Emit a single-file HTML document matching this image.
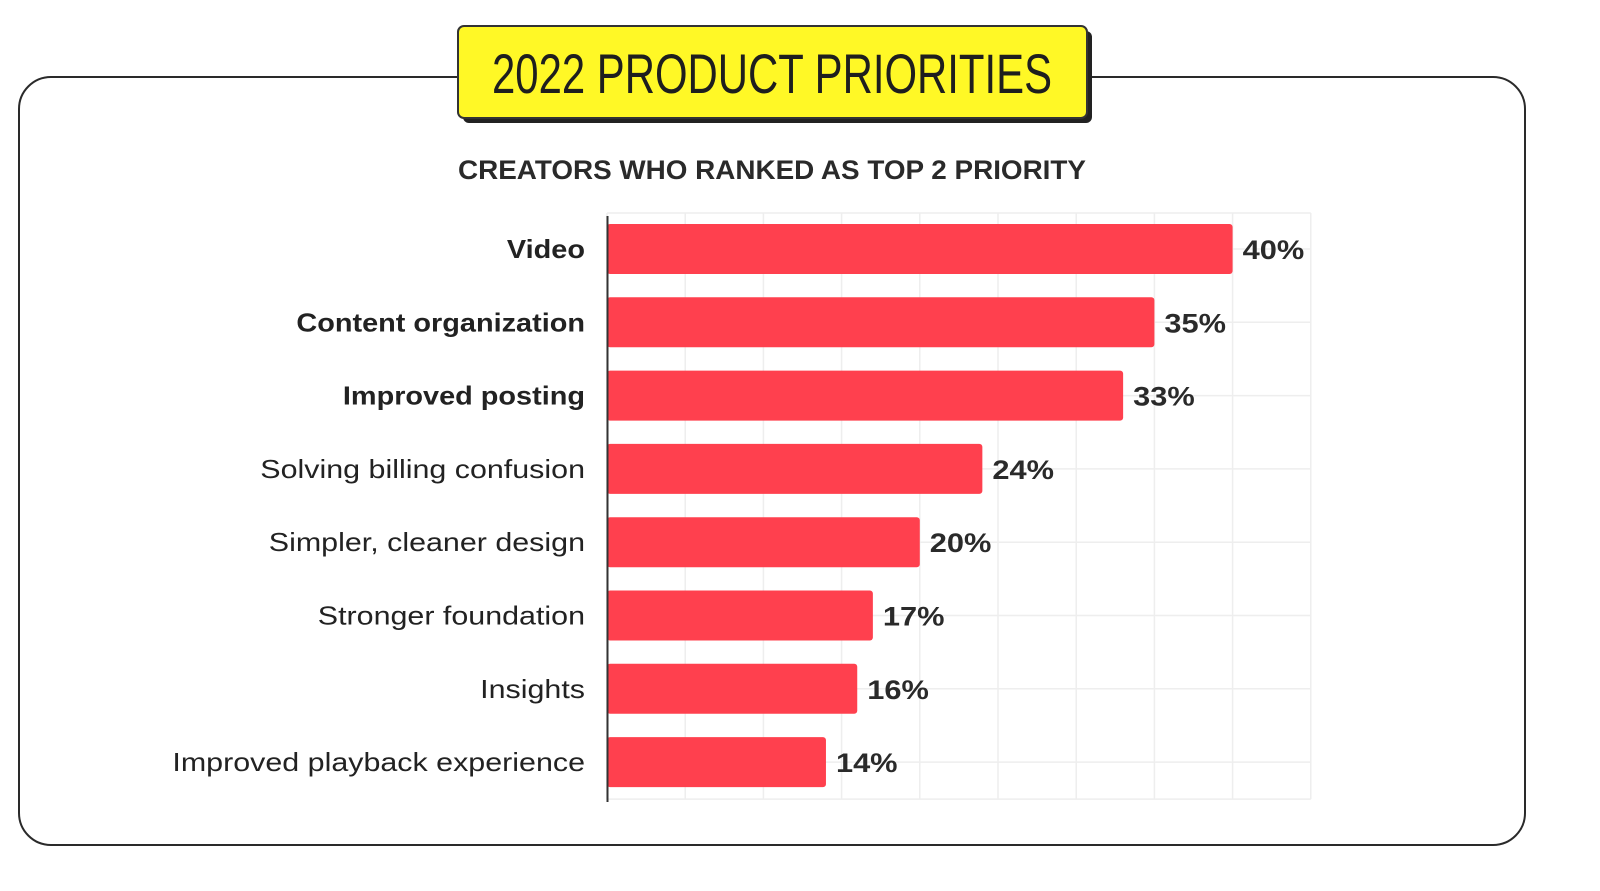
<!DOCTYPE html>
<html><head><meta charset="utf-8"><style>
html,body{margin:0;padding:0;background:#fff;}
svg{display:block;font-family:"Liberation Sans",sans-serif;}
</style></head><body>
<svg id="chart" width="1600" height="891" viewBox="0 0 1600 891">
<rect x="19" y="77" width="1506" height="768" rx="32" fill="#fff" stroke="#2a2a2a" stroke-width="2"/>
<g id="grid"></g>
<g id="bars"></g>
<line x1="607.5" y1="216" x2="607.5" y2="802" stroke="#333" stroke-width="2"/>
<rect x="463" y="31" width="629" height="92" rx="6" fill="#222"/>
<rect x="458" y="26" width="629" height="92" rx="6" fill="#fff826" stroke="#333" stroke-width="2"/>
<text x="772" y="93" text-anchor="middle" font-family="'Liberation Sans Narrow','Liberation Sans',sans-serif" font-size="56" fill="#1e1e1e" textLength="560" lengthAdjust="spacingAndGlyphs">2022 PRODUCT PRIORITIES</text>
<text x="772" y="179" text-anchor="middle" font-weight="bold" font-size="27" fill="#2a2a2a" textLength="628" lengthAdjust="spacingAndGlyphs">CREATORS WHO RANKED AS TOP 2 PRIORITY</text>
</svg>
<script>
const categories = ["Video","Content organization","Improved posting","Solving billing confusion","Simpler, cleaner design","Stronger foundation","Insights","Improved playback experience"];
const values = [40,35,33,24,20,17,16,14];
const boldFlags = [true,true,true,false,false,false,false,false];
const gridTicks = [0,5,10,15,20,25,30,35,40,45];

const NS="http://www.w3.org/2000/svg";
const x0=607, pxPer=78.2/5;
const xs=v=>x0+v*pxPer;
const rowStep=73.3, rowTop=249;
const ys=i=>rowTop+i*rowStep;
const gridTop=ys(0)-36, gridBot=ys(categories.length-1)+37;
const grid=document.getElementById('grid'), bars=document.getElementById('bars');
function mk(tag,attrs,parent){const e=document.createElementNS(NS,tag);for(const k in attrs)e.setAttribute(k,attrs[k]);parent.appendChild(e);return e;}
function stretch(t,k){const w=t.getComputedTextLength();t.setAttribute('textLength',(w*k).toFixed(1));t.setAttribute('lengthAdjust','spacingAndGlyphs');}
gridTicks.forEach(t=>{
  const l=mk('line',{x1:xs(t),x2:xs(t),y1:gridTop,y2:gridBot,stroke:'#eeeeee','stroke-width':1.5},grid);
  
  
});
const hy=[gridTop].concat(categories.map((c,i)=>ys(i)),[gridBot]);
hy.forEach(y=>{
  const l=mk('line',{x1:x0,x2:xs(gridTicks[gridTicks.length-1]),y1:y,y2:y,stroke:'#eeeeee','stroke-width':1.5},grid);
  
  
});
categories.forEach((c,i)=>{
  const y=ys(i);
  const r=mk('rect',{x:x0,y:y-25,width:xs(values[i])-x0,height:50,rx:3,fill:'#ff404e'},bars);
  
  
  const lab=mk('text',{x:585,y:y+9,'text-anchor':'end','font-size':26,fill:'#222','font-weight':boldFlags[i]?'bold':'normal'},bars);
  lab.textContent=c;
  
  
  stretch(lab,boldFlags[i]?1.11:1.17);
  const v=mk('text',{x:xs(values[i])+10,y:y+10,'font-size':27,'font-weight':'bold',fill:'#2a2a2a'},bars);
  v.textContent=values[i]+'%';
  
  
  stretch(v,1.14);
});
</script>
</body></html>
